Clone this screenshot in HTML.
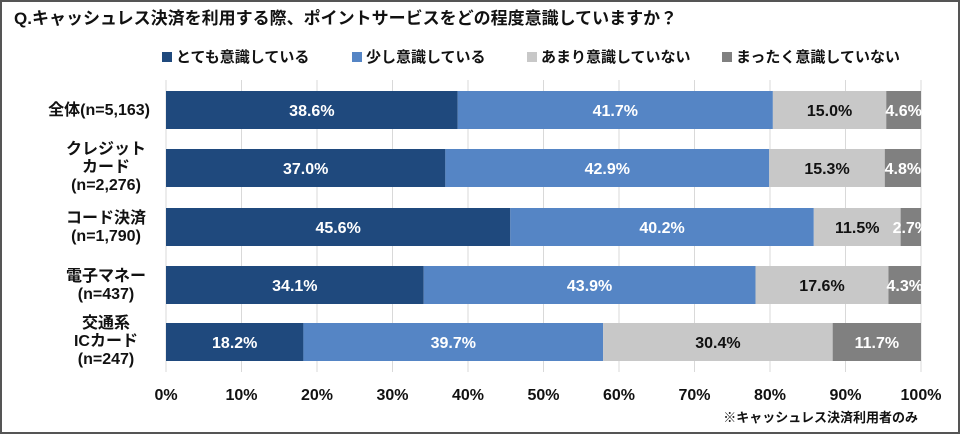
<!DOCTYPE html>
<html><head><meta charset="utf-8"><style>
body{margin:0;background:#fff}
svg{display:block}
text{font-family:"Liberation Sans","Noto Sans CJK JP",sans-serif;font-weight:bold}
</style></head><body>
<svg width="960" height="434" viewBox="0 0 960 434">
<rect x="1" y="1" width="958" height="432" fill="#fff" stroke="#555" stroke-width="2"/>
<text x="14" y="24" font-size="17" fill="#111">Q.キャッシュレス決済を利用する際、ポイントサービスをどの程度意識していますか？</text>
<g font-size="15" fill="#111">
<rect x="162" y="52" width="10" height="10" fill="#1f497d"/><text x="176" y="62">とても意識している</text>
<rect x="352" y="52" width="10" height="10" fill="#5585c5"/><text x="366" y="62">少し意識している</text>
<rect x="527" y="52" width="10" height="10" fill="#c8c8c8"/><text x="541" y="62">あまり意識していない</text>
<rect x="722" y="52" width="10" height="10" fill="#808080"/><text x="736" y="62">まったく意識していない</text>
</g>
<g stroke="#d9d9d9" stroke-width="1">
<line x1="166" y1="80" x2="166" y2="372"/><line x1="241.5" y1="80" x2="241.5" y2="372"/><line x1="317" y1="80" x2="317" y2="372"/><line x1="392.5" y1="80" x2="392.5" y2="372"/><line x1="468" y1="80" x2="468" y2="372"/><line x1="543.5" y1="80" x2="543.5" y2="372"/><line x1="619" y1="80" x2="619" y2="372"/><line x1="694.5" y1="80" x2="694.5" y2="372"/><line x1="770" y1="80" x2="770" y2="372"/><line x1="845.5" y1="80" x2="845.5" y2="372"/><line x1="921" y1="80" x2="921" y2="372"/>
</g>
<g id="bars" font-size="16" text-anchor="middle"></g>
<g font-size="16" fill="#111" text-anchor="middle">
<text x="166" y="400">0%</text><text x="241.5" y="400">10%</text><text x="317" y="400">20%</text><text x="392.5" y="400">30%</text><text x="468" y="400">40%</text><text x="543.5" y="400">50%</text><text x="619" y="400">60%</text><text x="694.5" y="400">70%</text><text x="770" y="400">80%</text><text x="845.5" y="400">90%</text><text x="921" y="400">100%</text>
</g>
<text x="918" y="422" font-size="13" fill="#111" text-anchor="end">※キャッシュレス決済利用者のみ</text>
<g font-size="16" fill="#111" text-anchor="middle">
<text x="150" y="115" text-anchor="end">全体(n=5,163)</text>
<text x="106" y="154">クレジット</text><text x="106" y="172">カード</text><text x="106" y="190">(n=2,276)</text>
<text x="106" y="223">コード決済</text><text x="106" y="241">(n=1,790)</text>
<text x="106" y="281">電子マネー</text><text x="106" y="299">(n=437)</text>
<text x="106" y="328">交通系</text><text x="106" y="346">ICカード</text><text x="106" y="364">(n=247)</text>
</g>
</svg>
<script>
var d=[[38.6,41.7,15.0,4.6],[37.0,42.9,15.3,4.8],[45.6,40.2,11.5,2.7],[34.1,43.9,17.6,4.3],[18.2,39.7,30.4,11.7]];
var ys=[91,149,208,266,323],c=["#1f497d","#5585c5","#c8c8c8","#808080"],tc=["#fff","#fff","#111","#fff"];
var g=document.getElementById("bars"),s="";
d.forEach(function(r,i){var x=166;var tot=r.reduce(function(a,b){return a+b},0);r.forEach(function(v,j){var w=v/tot*755;s+='<rect x="'+x+'" y="'+ys[i]+'" width="'+w+'" height="38" fill="'+c[j]+'"/>';s+='<text x="'+(x+w/2)+'" y="'+(ys[i]+25)+'" fill="'+tc[j]+'">'+v.toFixed(1)+'%</text>';x+=w;});});
g.innerHTML=s;
</script>
</body></html>
